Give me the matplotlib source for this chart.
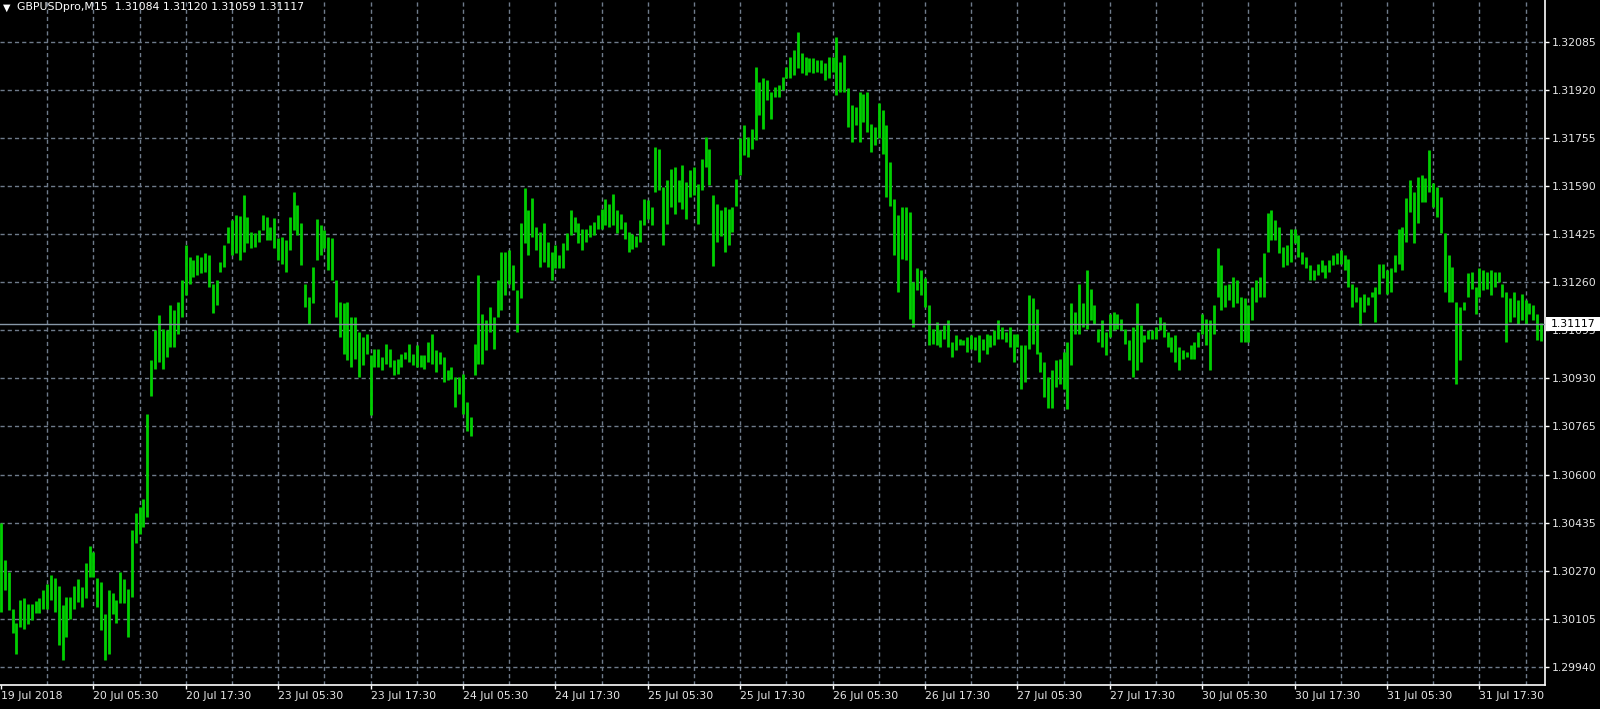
import matplotlib
matplotlib.use('Agg')
import matplotlib.pyplot as plt
from matplotlib.patches import Rectangle

# ---------------- data ----------------
symbol_text = "GBPUSDpro,M15  1.31084 1.31120 1.31059 1.31117"
last_price = 1.31117
price_ticks = [1.29940, 1.30105, 1.30270, 1.30435, 1.30600, 1.30765, 1.30930,
               1.31095, 1.31260, 1.31425, 1.31590, 1.31755, 1.31920, 1.32085]
date_labels = ["19 Jul 2018", "20 Jul 05:30", "20 Jul 17:30", "23 Jul 05:30",
               "23 Jul 17:30", "24 Jul 05:30", "24 Jul 17:30", "25 Jul 05:30",
               "25 Jul 17:30", "26 Jul 05:30", "26 Jul 17:30", "27 Jul 05:30",
               "27 Jul 17:30", "30 Jul 05:30", "30 Jul 17:30", "31 Jul 05:30",
               "31 Jul 17:30"]
bars_per_label = 24
bars_per_grid = 12

highs = [
    1.30433, 1.30307, 1.30267, 1.30140, 1.30089, 1.30169, 1.30175, 1.30155, 1.30155, 1.30166, 1.30175, 1.30203,
    1.30226, 1.30255, 1.30244, 1.30217, 1.30152, 1.30181, 1.30181, 1.30217, 1.30240, 1.30215, 1.30295, 1.30355,
    1.30335, 1.30244, 1.30232, 1.30123, 1.30203, 1.30192, 1.30169, 1.30267, 1.30240, 1.30209, 1.30410, 1.30467,
    1.30488, 1.30516, 1.30808, 1.30992, 1.31095, 1.31146, 1.31101, 1.31095, 1.31181, 1.31164, 1.31192, 1.31269,
    1.31387, 1.31347, 1.31336, 1.31353, 1.31347, 1.31359, 1.31353, 1.31255, 1.31267, 1.31330, 1.31387, 1.31450,
    1.31473, 1.31490, 1.31487, 1.31559, 1.31485, 1.31433, 1.31427, 1.31439, 1.31490, 1.31485, 1.31450, 1.31479,
    1.31410, 1.31416, 1.31404, 1.31485, 1.31571, 1.31525, 1.31462, 1.31255, 1.31210, 1.31313, 1.31475, 1.31456,
    1.31439, 1.31416, 1.31410, 1.31267, 1.31192, 1.31187, 1.31192, 1.31141, 1.31141, 1.31089, 1.31072, 1.31083,
    1.31009, 1.31032, 1.31032, 1.31003, 1.31049, 1.31032, 1.30992, 1.30998, 1.31015, 1.31021, 1.31049, 1.31015,
    1.31043, 1.31009, 1.31009, 1.31055, 1.31083, 1.31026, 1.31021, 1.31003, 1.30957, 1.30969, 1.30934, 1.30934,
    1.30946, 1.30849, 1.30797, 1.31049, 1.31284, 1.31152, 1.31129, 1.31175, 1.31141, 1.31267, 1.31364, 1.31364,
    1.31370, 1.31318, 1.31232, 1.31462, 1.31582, 1.31507, 1.31548, 1.31450, 1.31433, 1.31462, 1.31399, 1.31364,
    1.31387, 1.31353, 1.31393, 1.31427, 1.31507, 1.31485, 1.31462, 1.31444, 1.31444, 1.31456, 1.31467, 1.31490,
    1.31512, 1.31546, 1.31529, 1.31564, 1.31506, 1.31495, 1.31466, 1.31432, 1.31426, 1.31420, 1.31472, 1.31546,
    1.31541, 1.31518, 1.31724, 1.31718, 1.31586, 1.31609, 1.31649, 1.31655, 1.31609, 1.31661, 1.31604, 1.31644,
    1.31655, 1.31598, 1.31684, 1.31758, 1.31718, 1.31558, 1.31529, 1.31506, 1.31518, 1.31512, 1.31518, 1.31615,
    1.31753, 1.31799, 1.31758, 1.31787, 1.31999, 1.31948, 1.31959, 1.31953, 1.31913, 1.31930, 1.31936, 1.31965,
    1.31999, 1.32033, 1.32056, 1.32119, 1.32045, 1.32033, 1.32028, 1.32028, 1.32022, 1.32022, 1.32011, 1.32033,
    1.32033, 1.32102, 1.32016, 1.32039, 1.31925, 1.31867, 1.31862, 1.31913, 1.31907, 1.31913, 1.31804, 1.31793,
    1.31873, 1.31850, 1.31799, 1.31673, 1.31546, 1.31489, 1.31518, 1.31519, 1.31502, 1.31261, 1.31310, 1.31301,
    1.31273, 1.31181, 1.31101, 1.31124, 1.31095, 1.31112, 1.31129, 1.31055, 1.31078, 1.31066, 1.31061, 1.31072,
    1.31078, 1.31072, 1.31078, 1.31066, 1.31083, 1.31078, 1.31095, 1.31129, 1.31106, 1.31089, 1.31106, 1.31083,
    1.31083, 1.31043, 1.31043, 1.31215, 1.31204, 1.31169, 1.31020, 1.30986, 1.30934, 1.30957, 1.30992, 1.30998,
    1.31020, 1.31055, 1.31187, 1.31158, 1.31255, 1.31187, 1.31301, 1.31238, 1.31181, 1.31101, 1.31129, 1.31089,
    1.31152, 1.31158, 1.31152, 1.31135, 1.31101, 1.31061, 1.31106, 1.31187, 1.31112, 1.31078, 1.31095, 1.31095,
    1.31106, 1.31141, 1.31124, 1.31089, 1.31072, 1.31078, 1.31038, 1.31026, 1.31020, 1.31043, 1.31055, 1.31089,
    1.31152, 1.31135, 1.31129, 1.31181, 1.31376, 1.31318, 1.31250, 1.31255, 1.31278, 1.31267, 1.31210, 1.31204,
    1.31181, 1.31244, 1.31267, 1.31278, 1.31359, 1.31496, 1.31507, 1.31473, 1.31450, 1.31381, 1.31387, 1.31444,
    1.31444, 1.31422, 1.31364, 1.31347, 1.31318, 1.31301, 1.31324, 1.31336, 1.31318, 1.31336, 1.31353, 1.31359,
    1.31370, 1.31353, 1.31341, 1.31255, 1.31244, 1.31210, 1.31221, 1.31210, 1.31227, 1.31244, 1.31324, 1.31324,
    1.31301, 1.31307, 1.31353, 1.31444, 1.31450, 1.31548, 1.31611, 1.31571, 1.31622, 1.31628, 1.31617, 1.31714,
    1.31599, 1.31588, 1.31553, 1.31427, 1.31353, 1.31313, 1.31192, 1.31175, 1.31192, 1.31290, 1.31295, 1.31244,
    1.31307, 1.31301, 1.31295, 1.31301, 1.31295, 1.31295, 1.31255, 1.31227, 1.31204, 1.31227, 1.31198, 1.31221,
    1.31198, 1.31187, 1.31181, 1.31152, 1.31120,
]

lows = [
    1.30129, 1.30204, 1.30135, 1.30055, 1.29986, 1.30077, 1.30071, 1.30086, 1.30100, 1.30125, 1.30125, 1.30140,
    1.30140, 1.30169, 1.30129, 1.30014, 1.29963, 1.30043, 1.30106, 1.30140, 1.30163, 1.30146, 1.30175, 1.30249,
    1.30249, 1.30146, 1.30066, 1.29963, 1.29986, 1.30123, 1.30089, 1.30158, 1.30158, 1.30043, 1.30181, 1.30364,
    1.30396, 1.30419, 1.30453, 1.30871, 1.30963, 1.30986, 1.30963, 1.31003, 1.31038, 1.31038, 1.31083, 1.31141,
    1.31215, 1.31255, 1.31278, 1.31284, 1.31290, 1.31295, 1.31244, 1.31154, 1.31181, 1.31295, 1.31313, 1.31393,
    1.31353, 1.31359, 1.31336, 1.31364, 1.31393, 1.31376, 1.31381, 1.31399, 1.31439, 1.31404, 1.31404, 1.31376,
    1.31336, 1.31324, 1.31295, 1.31370, 1.31439, 1.31422, 1.31318, 1.31175, 1.31118, 1.31187, 1.31336, 1.31353,
    1.31376, 1.31301, 1.31267, 1.31141, 1.31072, 1.31015, 1.30992, 1.30969, 1.30998, 1.30934, 1.30975, 1.31015,
    1.30803, 1.30969, 1.30969, 1.30957, 1.30980, 1.30969, 1.30940, 1.30946, 1.30969, 1.30998, 1.30986, 1.30975,
    1.30969, 1.30969, 1.30963, 1.30986, 1.30980, 1.30952, 1.30980, 1.30917, 1.30923, 1.30929, 1.30831, 1.30877,
    1.30808, 1.30751, 1.30732, 1.30940, 1.30980, 1.30980, 1.31026, 1.31089, 1.31032, 1.31141, 1.31164, 1.31215,
    1.31255, 1.31232, 1.31089, 1.31204, 1.31393, 1.31353, 1.31416, 1.31370, 1.31313, 1.31330, 1.31313, 1.31267,
    1.31307, 1.31307, 1.31307, 1.31370, 1.31422, 1.31433, 1.31393, 1.31370, 1.31399, 1.31416, 1.31422, 1.31444,
    1.31443, 1.31455, 1.31449, 1.31455, 1.31427, 1.31443, 1.31409, 1.31363, 1.31374, 1.31380, 1.31397, 1.31455,
    1.31478, 1.31455, 1.31569, 1.31575, 1.31386, 1.31460, 1.31518, 1.31495, 1.31535, 1.31512, 1.31478, 1.31552,
    1.31558, 1.31460, 1.31575, 1.31655, 1.31592, 1.31317, 1.31397, 1.31420, 1.31363, 1.31386, 1.31432, 1.31523,
    1.31627, 1.31695, 1.31689, 1.31718, 1.31747, 1.31833, 1.31787, 1.31884, 1.31821, 1.31896, 1.31896, 1.31919,
    1.31959, 1.31959, 1.31970, 1.31993, 1.31976, 1.31970, 1.31982, 1.31976, 1.31982, 1.31976, 1.31953, 1.31959,
    1.31982, 1.31902, 1.31913, 1.31913, 1.31793, 1.31741, 1.31799, 1.31741, 1.31810, 1.31775, 1.31707, 1.31730,
    1.31753, 1.31701, 1.31552, 1.31523, 1.31352, 1.31226, 1.31340, 1.31336, 1.31135, 1.31106, 1.31232, 1.31215,
    1.31175, 1.31043, 1.31049, 1.31043, 1.31038, 1.31066, 1.31038, 1.31003, 1.31026, 1.31043, 1.31043, 1.31020,
    1.31032, 1.31026, 1.30986, 1.31026, 1.31015, 1.31038, 1.31043, 1.31066, 1.31066, 1.31055, 1.31038, 1.30986,
    1.31038, 1.30894, 1.30917, 1.31032, 1.31049, 1.31015, 1.30952, 1.30866, 1.30830, 1.30830, 1.30900, 1.30911,
    1.30894, 1.30826, 1.30975, 1.31083, 1.31083, 1.31106, 1.31101, 1.31129, 1.31118, 1.31055, 1.31038, 1.31009,
    1.31072, 1.31095, 1.31101, 1.31095, 1.31049, 1.30992, 1.30934, 1.30957, 1.30986, 1.31055, 1.31066, 1.31066,
    1.31066, 1.31095, 1.31072, 1.31038, 1.31020, 1.30986, 1.30957, 1.30998, 1.31003, 1.30998, 1.30998, 1.31038,
    1.31083, 1.31043, 1.30957, 1.31083, 1.31210, 1.31164, 1.31175, 1.31198, 1.31175, 1.31187, 1.31055, 1.31055,
    1.31055, 1.31129, 1.31192, 1.31210, 1.31210, 1.31364, 1.31404, 1.31404, 1.31359, 1.31313, 1.31318, 1.31330,
    1.31393, 1.31347, 1.31324, 1.31307, 1.31267, 1.31267, 1.31284, 1.31295, 1.31273, 1.31295, 1.31318, 1.31324,
    1.31324, 1.31301, 1.31244, 1.31175, 1.31192, 1.31112, 1.31158, 1.31181, 1.31210, 1.31124, 1.31221, 1.31273,
    1.31221, 1.31227, 1.31295, 1.31324, 1.31301, 1.31399, 1.31502, 1.31393, 1.31462, 1.31536, 1.31536, 1.31571,
    1.31519, 1.31485, 1.31427, 1.31227, 1.31192, 1.31192, 1.30910, 1.30992, 1.31164, 1.31210, 1.31238, 1.31152,
    1.31210, 1.31232, 1.31238, 1.31215, 1.31244, 1.31261, 1.31210, 1.31055, 1.31124, 1.31141, 1.31118, 1.31129,
    1.31118, 1.31152, 1.31129, 1.31061, 1.31059,
]

# ---------------- figure ----------------
W, H, DPI = 1600, 709, 100
fig = plt.figure(figsize=(W / DPI, H / DPI), dpi=DPI, facecolor='black')
ax_left_px, ax_right_px, ax_bottom_px = 0, 1545, 685
ax = fig.add_axes([ax_left_px / W, (H - ax_bottom_px) / H,
                   (ax_right_px - ax_left_px) / W, ax_bottom_px / H])
ax.set_facecolor('black')

n = len(highs)
xs = list(range(n))
pitch_px = 46.2 / bars_per_grid
ax.set_xlim(-0.25, -0.25 + (ax_right_px - ax_left_px) / pitch_px)
ax.set_ylim(1.29878, 1.32228)

grid_col = '#6f7b8b'
for p in price_ticks:
    ax.axhline(p, color=grid_col, lw=1.0, linestyle=(0, (3, 2.2)), zorder=0.5)
for i in range(bars_per_grid, int(ax.get_xlim()[1]) + 1, bars_per_grid):
    ax.axvline(i, color=grid_col, lw=1.0, linestyle=(0, (3, 2.2)), zorder=0.5)

ax.vlines(xs, lows, highs, color='#00cf00', lw=2.0, zorder=2)

ax.axhline(last_price, color='#8898a8', lw=1.0, zorder=3)

# axes styling
for s in ['top', 'left']:
    ax.spines[s].set_visible(False)
for s in ['right', 'bottom']:
    ax.spines[s].set_color('white')
    ax.spines[s].set_linewidth(1.2)
ax.set_axisbelow(True)

ax.yaxis.tick_right()
ax.set_yticks(price_ticks)
ax.set_yticklabels([f"{p:.5f}" for p in price_ticks])
ax.tick_params(axis='y', colors='white', labelcolor='#e6e6e6', labelsize=7.8,
               length=3, width=1, pad=2, direction='out')

xt = [i * bars_per_label for i in range(len(date_labels))]
ax.set_xticks(xt)
ax.set_xticklabels(date_labels)
ax.tick_params(axis='x', colors='white', labelcolor='#e6e6e6', labelsize=7.8,
               length=3, width=1, pad=1.5, direction='out')
for lbl in ax.get_xticklabels():
    lbl.set_ha('left')

# current price tag
fig.canvas.draw()
y_disp = ax.transData.transform((0, last_price))[1]
y_fig = y_disp / H
box_h = 14 / H
fig.patches.append(Rectangle((1546 / W, y_fig - box_h / 2), 54 / W, box_h,
                             transform=fig.transFigure, facecolor='white',
                             edgecolor='none', zorder=10))
fig.text(1551 / W, y_fig, f"{last_price:.5f}", color='black', fontsize=7.8,
         ha='left', va='center', zorder=11)

# header
fig.text(3 / W, 1 - 7.5 / H, '\u25bc', color='white', fontsize=7, ha='left', va='center')
fig.text(17 / W, 1 - 7.5 / H, symbol_text, color='white', fontsize=7.8,
         ha='left', va='center')

fig.savefig('out.png', dpi=DPI, facecolor='black')
